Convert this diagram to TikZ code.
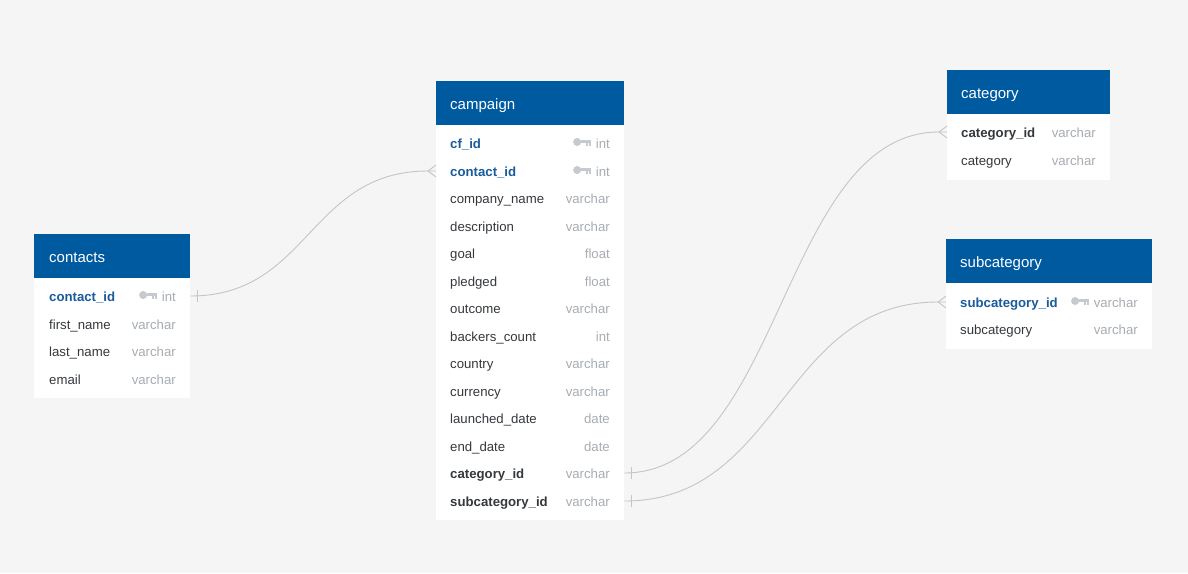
\documentclass[tikz,border=0pt]{standalone}
\usepackage{fontspec}
\setmainfont{Liberation Sans}
\usetikzlibrary{calc}
\definecolor{bgc}{HTML}{F4F5F4}
\definecolor{hdrc}{HTML}{005AA0}
\definecolor{keyblue}{HTML}{1A5B9B}
\definecolor{fldc}{HTML}{35393D}
\definecolor{typc}{HTML}{A7ADB3}
\definecolor{keyc}{HTML}{C6CACE}
\definecolor{relc}{HTML}{C2C6C9}
\newcommand\dbkey[1]{%
  \begin{scope}[shift={(#1.west)}]
    \fill[keyc] (-18.5,-1) circle (4);
    \fill[keyc] (-15,-3.2) rectangle (-4.5,0.4);
    \fill[keyc] (-9.5,0) rectangle (-7.3,2.6);
    \fill[keyc] (-6.7,0) rectangle (-4.5,2.6);
  \end{scope}}
\newcommand\dbrow[7]{%
  \node[fld,#7] (#1) at (#2,#4) {#5};
  \node[typ] (#1t) at (#3,#4) {#6};}
\begin{document}
\begin{tikzpicture}[x=1pt,y=-1pt,
  fld/.style={anchor=west,inner sep=0pt,text height=11.4pt,text depth=0pt,text=fldc,font=\fontsize{13.2}{15}\selectfont},
  pk/.style={text=keyblue,font=\fontsize{13.2}{15}\selectfont\bfseries},
  fk/.style={font=\fontsize{13.2}{15}\selectfont\bfseries},
  plain/.style={},
  typ/.style={anchor=east,inner sep=0pt,text height=11.4pt,text depth=0pt,text=typc,font=\fontsize{13.2}{15}\selectfont},
  hdrbox/.style={fill=hdrc,anchor=north west,inner sep=0pt,minimum height=44pt},
  bodybox/.style={fill=white,anchor=north west,inner sep=0pt},
  ttl/.style={anchor=west,inner sep=0pt,text=white,text height=12.8pt,text depth=0pt,font=\fontsize{15}{18}\selectfont},
  rel/.style={draw=relc,line width=0.9pt}]
\fill[bgc] (0,0) rectangle (1188,573);
\useasboundingbox (0,0) rectangle (1188,573);

% ---------- campaign ----------
\node[hdrbox,minimum width=188pt] (campH) at (436,81) {};
\node[bodybox,minimum width=188pt,minimum height=395pt] (campB) at (436,125) {};
\node[ttl] (campT) at (450,103) {campaign};
\dbrow{k1}{450}{610}{143}{cf\_id}{int}{pk}
\dbrow{k2}{450}{610}{171}{contact\_id}{int}{pk}
\dbrow{k3}{450}{610}{198}{company\_name}{varchar}{plain}
\dbrow{k4}{450}{610}{226}{description}{varchar}{plain}
\dbrow{k5}{450}{610}{253}{goal}{float}{plain}
\dbrow{k6}{450}{610}{281}{pledged}{float}{plain}
\dbrow{k7}{450}{610}{308}{outcome}{varchar}{plain}
\dbrow{k8}{450}{610}{336}{backers\_count}{int}{plain}
\dbrow{k9}{450}{610}{363}{country}{varchar}{plain}
\dbrow{k10}{450}{610}{391}{currency}{varchar}{plain}
\dbrow{k11}{450}{610}{418}{launched\_date}{date}{plain}
\dbrow{k12}{450}{610}{446}{end\_date}{date}{plain}
\dbrow{k13}{450}{610}{473}{category\_id}{varchar}{fk}
\dbrow{k14}{450}{610}{501}{subcategory\_id}{varchar}{fk}
\dbkey{k1t}
\dbkey{k2t}

% ---------- contacts ----------
\node[hdrbox,minimum width=156pt] (contH) at (34,234) {};
\node[bodybox,minimum width=156pt,minimum height=120pt] (contB) at (34,278) {};
\node[ttl] (contT) at (49,256) {contacts};
\dbrow{c1}{49}{176}{296}{contact\_id}{int}{pk}
\dbrow{c2}{49}{176}{324}{first\_name}{varchar}{plain}
\dbrow{c3}{49}{176}{351}{last\_name}{varchar}{plain}
\dbrow{c4}{49}{176}{379}{email}{varchar}{plain}
\dbkey{c1t}

% ---------- category ----------
\node[hdrbox,minimum width=163pt] (catH) at (947,70) {};
\node[bodybox,minimum width=163pt,minimum height=66pt] (catB) at (947,114) {};
\node[ttl] (catT) at (961,92) {category};
\dbrow{g1}{961}{1096}{132}{category\_id}{varchar}{fk}
\dbrow{g2}{961}{1096}{160}{category}{varchar}{plain}

% ---------- subcategory ----------
\node[hdrbox,minimum width=206pt] (subH) at (946,239) {};
\node[bodybox,minimum width=206pt,minimum height=66pt] (subB) at (946,283) {};
\node[ttl] (subT) at (960,261) {subcategory};
\dbrow{s1}{960}{1138}{302}{subcategory\_id}{varchar}{pk}
\dbrow{s2}{960}{1138}{329}{subcategory}{varchar}{plain}
\dbkey{s1t}

% ---------- relations ----------
% contacts.contact_id -> campaign.contact_id
\coordinate (r1a) at (contB.east |- c1);
\coordinate (r1e) at (campB.west |- k2);
\coordinate (r1b) at ($(r1e)+(-8,0)$);
\draw[rel] ($(r1a)+(7,-6)$) -- ($(r1a)+(7,6)$);
\draw[rel] (r1a) .. controls +(119,0) and +(-119,0) .. (r1b) -- (r1e);
\draw[rel] ($(r1e)+(0,-6)$) -- (r1b) -- ($(r1e)+(0,6)$);

% campaign.category_id -> category.category_id
\coordinate (r2a) at (campB.east |- k13);
\coordinate (r2e) at (catB.west |- g1);
\coordinate (r2b) at ($(r2e)+(-8,0)$);
\draw[rel] ($(r2a)+(7,-6)$) -- ($(r2a)+(7,6)$);
\draw[rel] (r2a) .. controls +(157,0) and +(-157,0) .. (r2b) -- (r2e);
\draw[rel] ($(r2e)+(0,-6)$) -- (r2b) -- ($(r2e)+(0,6)$);

% campaign.subcategory_id -> subcategory.subcategory_id
\coordinate (r3a) at (campB.east |- k14);
\coordinate (r3e) at (subB.west |- s1);
\coordinate (r3b) at ($(r3e)+(-8,0)$);
\draw[rel] ($(r3a)+(7,-6)$) -- ($(r3a)+(7,6)$);
\draw[rel] (r3a) .. controls +(157,0) and +(-157,0) .. (r3b) -- (r3e);
\draw[rel] ($(r3e)+(0,-6)$) -- (r3b) -- ($(r3e)+(0,6)$);
\end{tikzpicture}
\end{document}
